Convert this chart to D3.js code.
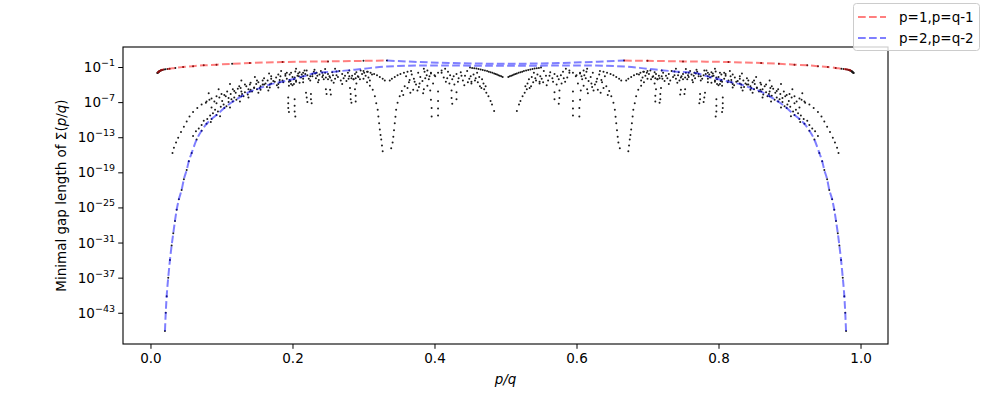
<!DOCTYPE html>
<html>
<head>
<meta charset="utf-8">
<script src="https://cdn.jsdelivr.net/npm/d3@7"></script>
<style>
  body { margin: 0; background: #fff; }
  svg { font-family: "DejaVu Sans", sans-serif; }
</style>
</head>
<body>
<div id="chart"></div>
<script>
// all values are [p/q, log10(minimal gap)]
const xTicks = [0, 0.2, 0.4, 0.6, 0.8, 1.0];
const yTickExps = [-1, -7, -13, -19, -25, -31, -37, -43];

// p=1, p=q-1 (red)
const redLeft = [[0.0096,-2.03],[0.012,-1.75],[0.015,-1.55],[0.019,-1.42],[0.027,-1.3],[0.035,-1.15],[0.046,-1.0],[0.06,-0.85],[0.075,-0.72],[0.093,-0.6],[0.115,-0.45],[0.14,-0.32],[0.186,-0.15],[0.25,-0.04],[0.3,0.05],[0.333,0.1]];
const redRight = [[0.667,0.1],[0.7,0.05],[0.75,-0.04],[0.814,-0.15],[0.86,-0.32],[0.885,-0.45],[0.907,-0.6],[0.925,-0.72],[0.94,-0.85],[0.954,-1.0],[0.965,-1.15],[0.973,-1.3],[0.981,-1.42],[0.985,-1.55],[0.988,-1.75],[0.9904,-2.03]];

// p=2, p=q-2 (blue)
const blueLower = [[0.0204,-46.1],[0.0215,-43.0],[0.0228,-40.2],[0.025,-37.0],[0.0274,-34.0],[0.0298,-31.5],[0.0321,-29.4],[0.0345,-27.3],[0.0369,-25.4],[0.040,-23.6],[0.0439,-22.0],[0.047,-20.2],[0.051,-18.6],[0.054,-17.1],[0.058,-15.7],[0.065,-13.4],[0.072,-11.9],[0.079,-10.7],[0.086,-9.9],[0.093,-9.2],[0.104,-8.0],[0.116,-6.9],[0.128,-6.0],[0.14,-5.2],[0.154,-4.6],[0.168,-4.0],[0.182,-3.6],[0.196,-3.2],[0.215,-2.6],[0.234,-2.0],[0.262,-1.75],[0.3,-1.3],[0.333,-0.9],[0.4,-0.73],[0.5,-0.8],
  [0.6,-0.73],[0.667,-0.9],[0.7,-1.3],[0.738,-1.75],[0.766,-2.0],[0.785,-2.6],[0.804,-3.2],[0.818,-3.6],[0.832,-4.0],[0.846,-4.6],[0.86,-5.2],[0.872,-6.0],[0.884,-6.9],[0.896,-8.0],[0.907,-9.2],[0.914,-9.9],[0.921,-10.7],[0.928,-11.9],[0.935,-13.4],[0.942,-15.7],[0.946,-17.1],[0.949,-18.6],[0.953,-20.2],[0.956,-22.0],[0.960,-23.6],[0.963,-25.4],[0.9655,-27.3],[0.968,-29.4],[0.9702,-31.5],[0.9726,-34.0],[0.975,-37.0],[0.9772,-40.2],[0.9785,-43.0],[0.9796,-46.1]];
const blueUpper = [[0.333,0.1],[0.37,-0.1],[0.42,-0.3],[0.5,-0.45],[0.58,-0.3],[0.63,-0.1],[0.667,0.1]];

// black scatter: minimal gap for each p/q
const outerArcLeft = [[0.031,-15.7],[0.033,-14.8],[0.036,-13.9],[0.039,-13.1],[0.043,-12.1],[0.047,-11.2],[0.051,-10.3],[0.055,-9.45],[0.060,-8.7],[0.066,-8.0],[0.072,-7.4],[0.079,-6.9],[0.086,-6.4],[0.093,-6.0],[0.100,-5.6],[0.108,-5.2],[0.116,-4.8],[0.125,-4.3],[0.133,-4.0],[0.141,-3.7],[0.150,-3.3],[0.160,-2.9],[0.170,-2.6],[0.180,-2.3],[0.192,-2.0],[0.204,-1.75],[0.217,-1.6],[0.231,-1.46],[0.246,-1.35],[0.260,-1.3]];
const outerArcRight = [[0.969,-15.7],[0.967,-14.8],[0.964,-13.9],[0.961,-13.1],[0.957,-12.1],[0.953,-11.2],[0.949,-10.3],[0.945,-9.45],[0.940,-8.7],[0.934,-8.0],[0.928,-7.4],[0.921,-6.9],[0.914,-6.4],[0.907,-6.0],[0.900,-5.6],[0.892,-5.2],[0.884,-4.8],[0.875,-4.3],[0.867,-4.0],[0.859,-3.7],[0.850,-3.3],[0.840,-2.9],[0.830,-2.6],[0.820,-2.3],[0.808,-2.0],[0.796,-1.75],[0.783,-1.6],[0.769,-1.46],[0.754,-1.35],[0.740,-1.3]];

const innerRowLeft = [[0.060,-12.8],[0.064,-12.0],[0.068,-11.5],[0.072,-10.9],[0.075,-10.2],[0.080,-9.9],[0.084,-9.3],[0.088,-8.9],[0.091,-8.3],[0.095,-8.6],[0.099,-7.8],[0.103,-7.4],[0.107,-7.7],[0.110,-7.0],[0.114,-6.5],[0.118,-6.2],[0.121,-6.6],[0.125,-5.9],[0.129,-5.6],[0.133,-5.3],[0.137,-5.7],[0.141,-4.9],[0.146,-4.6],[0.150,-4.8],[0.155,-4.3],[0.160,-4.0],[0.164,-4.4],[0.170,-3.8],[0.175,-3.5],[0.180,-3.9],[0.186,-3.3],[0.192,-3.0],[0.197,-3.4],[0.203,-2.8],[0.209,-2.6],[0.215,-3.0],[0.221,-2.4],[0.228,-2.2],[0.235,-2.5],[0.242,-2.0],
  [0.085,-10.4],[0.098,-9.4],[0.112,-7.9],[0.126,-6.9],[0.138,-6.2],[0.152,-5.4],[0.166,-5.0],[0.180,-4.5],[0.195,-4.2],[0.210,-3.7],[0.225,-3.3]];
const innerRowRight = [[0.940,-12.8],[0.936,-12.0],[0.932,-11.5],[0.928,-10.9],[0.925,-10.2],[0.920,-9.9],[0.916,-9.3],[0.912,-8.9],[0.909,-8.3],[0.905,-8.6],[0.901,-7.8],[0.897,-7.4],[0.893,-7.7],[0.890,-7.0],[0.886,-6.5],[0.882,-6.2],[0.879,-6.6],[0.875,-5.9],[0.871,-5.6],[0.867,-5.3],[0.863,-5.7],[0.859,-4.9],[0.854,-4.6],[0.850,-4.8],[0.845,-4.3],[0.840,-4.0],[0.836,-4.4],[0.830,-3.8],[0.825,-3.5],[0.820,-3.9],[0.814,-3.3],[0.808,-3.0],[0.803,-3.4],[0.797,-2.8],[0.791,-2.6],[0.785,-3.0],[0.779,-2.4],[0.772,-2.2],[0.765,-2.5],[0.758,-2.0],
  [0.915,-10.4],[0.902,-9.4],[0.888,-7.9],[0.874,-6.9],[0.862,-6.2],[0.848,-5.4],[0.834,-5.0],[0.820,-4.5],[0.805,-4.2],[0.790,-3.7],[0.775,-3.3]];

const midLeft = [[0.078,-7.1],[0.083,-6.6],[0.090,-6.9],[0.097,-6.2],[0.104,-5.8],[0.110,-6.3],[0.118,-5.1],[0.123,-4.7],[0.128,-5.2],[0.135,-4.3],[0.140,-4.0],[0.146,-4.5],[0.152,-3.6],[0.158,-3.3],[0.162,-3.8],[0.170,-3.0],[0.177,-2.8],[0.182,-3.2],[0.190,-2.5],[0.196,-2.3],[0.200,-2.7],[0.208,-2.1],[0.213,-2.3],
  [0.082,-5.5],[0.096,-4.8],[0.112,-3.9],[0.128,-3.3],[0.147,-2.7],[0.167,-2.1],[0.184,-1.7],[0.205,-1.3]];
const midRight = [[0.922,-7.1],[0.917,-6.6],[0.910,-6.9],[0.903,-6.2],[0.896,-5.8],[0.890,-6.3],[0.882,-5.1],[0.877,-4.7],[0.872,-5.2],[0.865,-4.3],[0.860,-4.0],[0.854,-4.5],[0.848,-3.6],[0.842,-3.3],[0.838,-3.8],[0.830,-3.0],[0.823,-2.8],[0.818,-3.2],[0.810,-2.5],[0.804,-2.3],[0.800,-2.7],[0.792,-2.1],[0.787,-2.3],
  [0.918,-5.5],[0.904,-4.8],[0.888,-3.9],[0.872,-3.3],[0.853,-2.7],[0.833,-2.1],[0.816,-1.7],[0.795,-1.3]];

const extraLeft = [[0.086,-7.9],[0.093,-7.2],[0.101,-6.8],[0.106,-6.0],[0.113,-5.6],[0.120,-5.4],[0.127,-4.6],[0.131,-6.0],[0.138,-4.8],[0.143,-5.2],[0.149,-3.9],[0.155,-4.9],[0.158,-4.0],[0.165,-3.3],[0.168,-4.5],[0.173,-3.4],[0.178,-4.1],[0.183,-2.6],[0.187,-3.6],[0.190,-2.2],[0.198,-2.0],[0.202,-3.1],[0.207,-2.5],[0.212,-2.8],[0.218,-2.2],[0.223,-3.0],[0.228,-2.6],[0.232,-2.1],[0.237,-3.2],[0.242,-2.7],[0.246,-2.0],[0.255,-3.3],[0.264,-2.7],[0.268,-3.3],[0.274,-2.5],[0.279,-3.0],[0.288,-2.2],[0.295,-3.1],[0.301,-2.0],[0.307,-2.8],[0.372,-3.5],[0.379,-3.8],[0.387,-2.9],[0.393,-2.6],[0.418,-2.9],[0.421,-3.8],[0.427,-2.6],[0.433,-3.5],[0.438,-2.5],[0.442,-4.1],[0.447,-3.6],[0.451,-2.6],[0.457,-3.3],[0.460,-2.0],[0.463,-2.7],[0.469,-3.8],[0.472,-4.3]];
const extraRight = [[0.914,-7.9],[0.907,-7.2],[0.899,-6.8],[0.894,-6.0],[0.887,-5.6],[0.880,-5.4],[0.873,-4.6],[0.869,-6.0],[0.862,-4.8],[0.857,-5.2],[0.851,-3.9],[0.845,-4.9],[0.842,-4.0],[0.835,-3.3],[0.832,-4.5],[0.827,-3.4],[0.822,-4.1],[0.817,-2.6],[0.813,-3.6],[0.810,-2.2],[0.802,-2.0],[0.798,-3.1],[0.793,-2.5],[0.788,-2.8],[0.782,-2.2],[0.777,-3.0],[0.772,-2.6],[0.768,-2.1],[0.763,-3.2],[0.758,-2.7],[0.754,-2.0],[0.745,-3.3],[0.736,-2.7],[0.732,-3.3],[0.726,-2.5],[0.721,-3.0],[0.712,-2.2],[0.705,-3.1],[0.699,-2.0],[0.693,-2.8],[0.628,-3.5],[0.621,-3.8],[0.613,-2.9],[0.607,-2.6],[0.582,-2.9],[0.579,-3.8],[0.573,-2.6],[0.567,-3.5],[0.562,-2.5],[0.558,-4.1],[0.553,-3.6],[0.549,-2.6],[0.543,-3.3],[0.540,-2.0],[0.537,-2.7],[0.531,-3.8],[0.528,-4.3]];

const dipsLeft = [[0.194,-6.2],[0.194,-7.2],[0.194,-8.0],[0.195,-8.7],[0.203,-6.5],[0.203,-7.6],[0.203,-8.6],[0.204,-9.45],
  [0.219,-5.4],[0.220,-6.2],[0.221,-7.0],[0.226,-5.6],[0.226,-6.5],[0.227,-7.2],
  [0.247,-4.8],[0.248,-5.6],[0.253,-4.9],[0.254,-5.7],
  [0.281,-4.6],[0.282,-5.6],[0.282,-6.5],[0.283,-7.1],[0.288,-4.8],[0.289,-5.9],[0.289,-6.9]];
const dipsRight = [[0.806,-6.2],[0.806,-7.2],[0.806,-8.0],[0.805,-8.7],[0.797,-6.5],[0.797,-7.6],[0.797,-8.6],[0.796,-9.45],
  [0.781,-5.4],[0.780,-6.2],[0.779,-7.0],[0.774,-5.6],[0.774,-6.5],[0.773,-7.2],
  [0.753,-4.8],[0.752,-5.6],[0.747,-4.9],[0.746,-5.7],
  [0.719,-4.6],[0.718,-5.6],[0.718,-6.5],[0.717,-7.1],[0.712,-4.8],[0.711,-5.9],[0.711,-6.9]];

const clustersLeft = [[0.210,-1.9],[0.215,-2.0],[0.220,-1.6],[0.225,-2.6],[0.230,-1.8],[0.233,-2.9],[0.238,-2.3],[0.240,-1.7],[0.244,-3.1],[0.250,-2.2],[0.252,-2.6],[0.256,-1.9],[0.260,-3.0],[0.262,-2.4],[0.266,-1.7],[0.270,-2.2],[0.272,-2.9],[0.276,-3.4],[0.278,-2.0],[0.280,-1.6],[0.284,-2.5],[0.286,-3.1],[0.290,-1.9],[0.293,-2.7],[0.296,-1.6],[0.298,-2.2],[0.300,-3.0],[0.303,-2.5],[0.306,-1.8],[0.309,-3.3],[0.312,-2.3],[0.236,-3.6],[0.258,-3.7],[0.270,-3.9],[0.290,-3.8],[0.215,-3.6],[0.205,-3.3],
  [0.243,-2.4],[0.247,-2.8],[0.250,-3.1],[0.253,-2.8],[0.257,-2.4],[0.195,-3.5],[0.198,-3.9],[0.200,-4.1],[0.202,-3.9],[0.205,-3.5],[0.280,-2.6],[0.283,-2.9],[0.286,-3.1],[0.289,-2.9],[0.292,-2.6]];
const clustersRight = [[0.790,-1.9],[0.785,-2.0],[0.780,-1.6],[0.775,-2.6],[0.770,-1.8],[0.767,-2.9],[0.762,-2.3],[0.760,-1.7],[0.756,-3.1],[0.750,-2.2],[0.748,-2.6],[0.744,-1.9],[0.740,-3.0],[0.738,-2.4],[0.734,-1.7],[0.730,-2.2],[0.728,-2.9],[0.724,-3.4],[0.722,-2.0],[0.720,-1.6],[0.716,-2.5],[0.714,-3.1],[0.710,-1.9],[0.707,-2.7],[0.704,-1.6],[0.702,-2.2],[0.700,-3.0],[0.697,-2.5],[0.694,-1.8],[0.691,-3.3],[0.688,-2.3],[0.764,-3.6],[0.742,-3.7],[0.730,-3.9],[0.710,-3.8],[0.785,-3.6],[0.795,-3.3],
  [0.757,-2.4],[0.753,-2.8],[0.750,-3.1],[0.747,-2.8],[0.743,-2.4],[0.805,-3.5],[0.802,-3.9],[0.800,-4.1],[0.798,-3.9],[0.795,-3.5],[0.720,-2.6],[0.717,-2.9],[0.714,-3.1],[0.711,-2.9],[0.708,-2.6]];

const thirdLeft = [[0.300,-1.7],[0.305,-1.8],[0.310,-2.0],[0.315,-2.2],[0.319,-2.4],[0.323,-2.7],[0.327,-3.0],[0.330,-3.3],
  [0.337,-3.3],[0.340,-3.0],[0.344,-2.7],[0.348,-2.4],[0.352,-2.2],[0.357,-2.0],[0.362,-1.8],[0.367,-1.7],
  [0.305,-3.6],[0.309,-4.2],[0.313,-4.9],[0.316,-6.0],[0.318,-7.2],[0.320,-8.3],[0.321,-9.45],[0.322,-10.6],[0.323,-11.7],[0.324,-12.6],[0.325,-13.4],[0.326,-14.4],[0.327,-15.4],
  [0.339,-14.9],[0.341,-13.9],[0.342,-12.9],[0.343,-11.8],[0.344,-10.6],[0.345,-9.5],[0.346,-8.3],[0.348,-7.1],[0.351,-6.0],[0.354,-5.1],[0.358,-4.3],[0.365,-3.2]];
const thirdRight = [[0.700,-1.7],[0.695,-1.8],[0.690,-2.0],[0.685,-2.2],[0.681,-2.4],[0.677,-2.7],[0.673,-3.0],[0.670,-3.3],
  [0.663,-3.3],[0.660,-3.0],[0.656,-2.7],[0.652,-2.4],[0.648,-2.2],[0.643,-2.0],[0.638,-1.8],[0.633,-1.7],
  [0.695,-3.6],[0.691,-4.2],[0.687,-4.9],[0.684,-6.0],[0.682,-7.2],[0.680,-8.3],[0.679,-9.45],[0.678,-10.6],[0.677,-11.7],[0.676,-12.6],[0.675,-13.4],[0.674,-14.4],[0.673,-15.4],
  [0.661,-14.9],[0.659,-13.9],[0.658,-12.9],[0.657,-11.8],[0.656,-10.6],[0.655,-9.5],[0.654,-8.3],[0.652,-7.1],[0.649,-6.0],[0.646,-5.1],[0.642,-4.3],[0.635,-3.2]];

const domeLeft = [[0.360,-2.6],[0.364,-3.6],[0.368,-2.3],[0.371,-3.0],[0.374,-4.0],[0.377,-2.0],[0.380,-2.7],[0.383,-3.4],[0.386,-1.8],[0.389,-2.4],[0.392,-3.1],[0.395,-2.1],[0.398,-3.8],[0.401,-2.6],
  [0.385,-1.3],[0.390,-1.6],[0.395,-2.0],[0.400,-2.4],[0.405,-2.0],[0.410,-1.6],[0.415,-1.3],
  [0.394,-5.0],[0.395,-6.6],[0.396,-8.0],[0.396,-9.45],[0.405,-5.2],[0.405,-6.8],[0.405,-8.1],[0.405,-9.3],
  [0.424,-5.0],[0.424,-6.3],[0.425,-7.3],[0.431,-5.3],[0.431,-6.5],
  [0.410,-2.0],[0.413,-2.8],[0.416,-3.5],[0.419,-1.8],[0.422,-2.4],[0.425,-3.1],[0.428,-4.0],[0.431,-2.2],[0.434,-2.9],[0.437,-1.9],[0.440,-3.3],[0.443,-2.5],[0.446,-1.7],[0.449,-3.0],[0.452,-3.8],[0.455,-2.3],[0.458,-2.9],[0.461,-3.6],[0.464,-4.3],[0.467,-3.1],[0.470,-4.8],[0.473,-5.4],[0.476,-6.0],[0.479,-6.8],[0.481,-7.4],[0.484,-8.5],[0.452,-3.5],[0.466,-4.6],
  [0.450,-1.1],[0.453,-1.15],[0.456,-1.2],[0.459,-1.27],[0.462,-1.35],[0.465,-1.42],[0.468,-1.5],[0.471,-1.6],[0.474,-1.7],[0.4765,-1.8],[0.479,-1.9],[0.4815,-2.0],[0.484,-2.1],[0.486,-2.2],[0.488,-2.3],[0.490,-2.4],[0.492,-2.5],[0.494,-2.6],[0.496,-2.7],
  [0.362,-4.6],[0.370,-4.9],[0.378,-4.4],[0.385,-4.8],[0.390,-4.2],[0.356,-5.8],[0.366,-5.4],[0.376,-5.0],[0.384,-5.5]];
const domeRight = [[0.640,-2.6],[0.636,-3.6],[0.632,-2.3],[0.629,-3.0],[0.626,-4.0],[0.623,-2.0],[0.620,-2.7],[0.617,-3.4],[0.614,-1.8],[0.611,-2.4],[0.608,-3.1],[0.605,-2.1],[0.602,-3.8],[0.599,-2.6],
  [0.615,-1.3],[0.610,-1.6],[0.605,-2.0],[0.600,-2.4],[0.595,-2.0],[0.590,-1.6],[0.585,-1.3],
  [0.606,-5.0],[0.605,-6.6],[0.604,-8.0],[0.604,-9.45],[0.595,-5.2],[0.595,-6.8],[0.595,-8.1],[0.595,-9.3],
  [0.576,-5.0],[0.576,-6.3],[0.575,-7.3],[0.569,-5.3],[0.569,-6.5],
  [0.590,-2.0],[0.587,-2.8],[0.584,-3.5],[0.581,-1.8],[0.578,-2.4],[0.575,-3.1],[0.572,-4.0],[0.569,-2.2],[0.566,-2.9],[0.563,-1.9],[0.560,-3.3],[0.557,-2.5],[0.554,-1.7],[0.551,-3.0],[0.548,-3.8],[0.545,-2.3],[0.542,-2.9],[0.539,-3.6],[0.536,-4.3],[0.533,-3.1],[0.530,-4.8],[0.527,-5.4],[0.524,-6.0],[0.521,-6.8],[0.519,-7.4],[0.516,-8.5],[0.548,-3.5],[0.534,-4.6],
  [0.550,-1.1],[0.547,-1.15],[0.544,-1.2],[0.541,-1.27],[0.538,-1.35],[0.535,-1.42],[0.532,-1.5],[0.529,-1.6],[0.526,-1.7],[0.5235,-1.8],[0.521,-1.9],[0.5185,-2.0],[0.516,-2.1],[0.514,-2.2],[0.512,-2.3],[0.510,-2.4],[0.508,-2.5],[0.506,-2.6],[0.504,-2.7],
  [0.638,-4.6],[0.630,-4.9],[0.622,-4.4],[0.615,-4.8],[0.610,-4.2],[0.644,-5.8],[0.634,-5.4],[0.624,-5.0],[0.616,-5.5]];

const redEndDots = [[0.0101,-2.0],[0.0105,-1.95],[0.011,-1.9],[0.0115,-1.85],[0.012,-1.78],[0.013,-1.7],[0.014,-1.62],[0.0152,-1.55],[0.017,-1.5],[0.021,-1.4],[0.024,-1.35],
  [0.9899,-2.0],[0.9895,-1.95],[0.989,-1.9],[0.9885,-1.85],[0.988,-1.78],[0.987,-1.7],[0.986,-1.62],[0.9848,-1.55],[0.983,-1.5],[0.979,-1.4],[0.976,-1.35]];

const legendLabels = ["p=1,p=q-1", "p=2,p=q-2"];

const outerWidth = 987;
const outerHeight = 395;
const plot = { left: 123, right: 888, top: 47, bottom: 344 };

const svg = d3.select("#chart")
  .append("svg")
  .attr("width", outerWidth)
  .attr("height", outerHeight);

svg.append("rect").attr("width", outerWidth).attr("height", outerHeight).attr("fill", "#fff");

const x = d3.scaleLinear().domain([-0.0387, 1.0387]).range([plot.left, plot.right]);
const y = d3.scaleLog().domain([Math.pow(10, -48.34), Math.pow(10, 2.42)]).range([plot.bottom, plot.top]);

const px = d => x(d[0]);
const py = d => y(Math.pow(10, d[1]));

// scatter first, the dashed lines go over it
const scatter = [].concat(outerArcLeft, outerArcRight, innerRowLeft, innerRowRight, midLeft, midRight,
  extraLeft, extraRight, dipsLeft, dipsRight, clustersLeft, clustersRight, thirdLeft, thirdRight,
  domeLeft, domeRight, redEndDots, redLeft, redRight,
  blueLower.filter(d => d[0] < 0.3 || d[0] > 0.7));

svg.append("g")
  .selectAll("circle")
  .data(scatter)
  .join("circle")
  .attr("cx", px)
  .attr("cy", py)
  .attr("r", 1)
  .attr("fill", "#1a1a1a");

const line = d3.line().x(px).y(py).curve(d3.curveMonotoneX);

function dashed(data, colour) {
  svg.append("path")
    .datum(data)
    .attr("d", line)
    .attr("fill", "none")
    .attr("stroke", colour)
    .attr("stroke-opacity", 0.5)
    .attr("stroke-width", 2)
    .attr("stroke-dasharray", "7.7,3.3");
}

dashed(redLeft, "red");
dashed(redRight, "red");
dashed(blueLower, "blue");
dashed(blueUpper, "blue");

// axes
const xAxis = d3.axisBottom(x).tickValues(xTicks).tickSize(4.8).tickSizeOuter(0).tickPadding(4.5)
  .tickFormat(d3.format(".1f"));
const xg = svg.append("g").attr("transform", `translate(0,${plot.bottom})`).call(xAxis);
xg.select(".domain").remove();
xg.selectAll("text").attr("font-size", 13.5).attr("font-family", "DejaVu Sans").attr("fill", "#000");
xg.selectAll("line").attr("stroke", "#000").attr("stroke-width", 1);

const yAxis = d3.axisLeft(y).tickValues(yTickExps.map(e => Math.pow(10, e))).tickSize(4.8).tickSizeOuter(0)
  .tickFormat("");
const yg = svg.append("g").attr("transform", `translate(${plot.left},0)`).call(yAxis);
yg.select(".domain").remove();
yg.selectAll("line").attr("stroke", "#000").attr("stroke-width", 1);

const yLabels = svg.append("g");
yTickExps.forEach(e => {
  const t = yLabels.append("text")
    .attr("x", plot.left - 8)
    .attr("y", y(Math.pow(10, e)) + 5)
    .attr("text-anchor", "end")
    .attr("font-size", 13.5);
  t.append("tspan").text("10");
  t.append("tspan").attr("dy", -6).attr("font-size", 9.5).text("\u2212" + Math.abs(e));
});

svg.append("rect")
  .attr("x", plot.left)
  .attr("y", plot.top)
  .attr("width", plot.right - plot.left)
  .attr("height", plot.bottom - plot.top)
  .attr("fill", "none")
  .attr("stroke", "#000")
  .attr("stroke-width", 1.1);

// axis labels
svg.append("text")
  .attr("x", (plot.left + plot.right) / 2)
  .attr("y", 384)
  .attr("text-anchor", "middle")
  .attr("font-size", 13.5)
  .attr("font-style", "italic")
  .text("p/q");

const yl = svg.append("text")
  .attr("transform", `translate(66,${(plot.top + plot.bottom) / 2}) rotate(-90)`)
  .attr("text-anchor", "middle")
  .attr("font-size", 13.5);
yl.append("tspan").text("Minimal gap length of \u03A3(");
yl.append("tspan").attr("font-style", "italic").text("p");
yl.append("tspan").text("/");
yl.append("tspan").attr("font-style", "italic").text("q");
yl.append("tspan").text(")");

// legend
const legend = svg.append("g");
legend.append("rect")
  .attr("x", 853.5).attr("y", 3.5).attr("width", 126).attr("height", 47).attr("rx", 3)
  .attr("fill", "#fff").attr("fill-opacity", 0.8)
  .attr("stroke", "#ccc").attr("stroke-width", 1);

[["red", 17], ["blue", 38]].forEach(([c, ly], i) => {
  legend.append("line")
    .attr("x1", 858).attr("x2", 886).attr("y1", ly).attr("y2", ly)
    .attr("stroke", c).attr("stroke-opacity", 0.5).attr("stroke-width", 2)
    .attr("stroke-dasharray", "7.7,3.3");
  legend.append("text")
    .attr("x", 899).attr("y", ly + 5)
    .attr("font-size", 13.5)
    .text(legendLabels[i]);
});
</script>
</body>
</html>
